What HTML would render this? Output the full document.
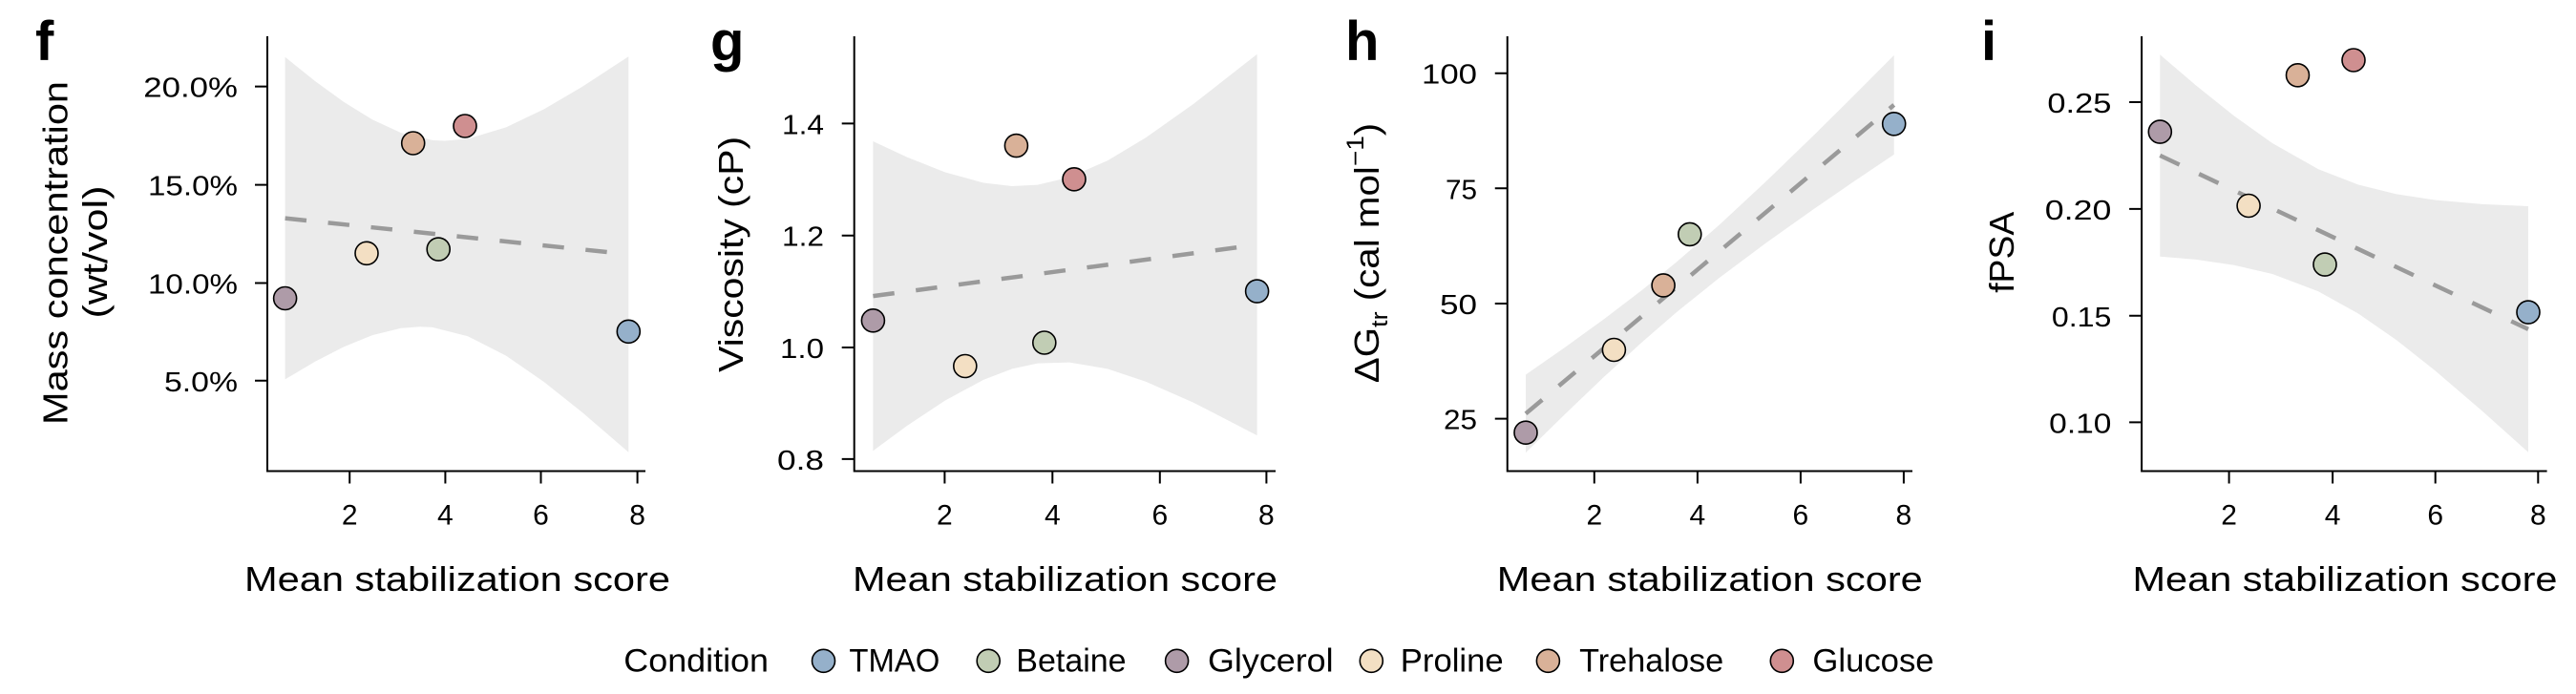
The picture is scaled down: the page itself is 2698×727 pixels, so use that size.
<!DOCTYPE html>
<html>
<head>
<meta charset="utf-8">
<style>
html,body{margin:0;padding:0;background:#fff;}
svg{display:block;}
text{font-family:"Liberation Sans",Arial,sans-serif;fill:#000;}
.ax{stroke:#000;stroke-width:2;fill:none;}
.band{fill:#ebebeb;stroke:none;}
.reg{stroke:#9a9a9a;stroke-width:4.5;stroke-dasharray:22.5 22.7;fill:none;}
.pt{stroke:#000;stroke-width:1.6;}
.tl{font-size:29px;}
.xl{font-size:30px;text-anchor:middle;}
.lab{font-size:36px;}
.pl{font-size:58px;font-weight:bold;}
.lg{font-size:34px;}
.tmao{fill:#95b0ca;}
.bet{fill:#c1cdb4;}
.gly{fill:#ae9ba8;}
.pro{fill:#f3dfc3;}
.tre{fill:#d9b198;}
.glu{fill:#cf8f90;}
</style>
</head>
<body>
<svg width="2698" height="727" viewBox="0 0 2698 727" xmlns="http://www.w3.org/2000/svg">

<!-- ================= Panel f ================= -->
<text class="pl" x="37" y="63">f</text>
<path class="band" d="M298.6,59.8 L330,85.0 L360,106.8 L390,125.3 L420,139.1 L453,146.9 L466,147.5 L490,145.4 L530,133.4 L570,114.2 L610,90.7 L658.3,59.2 L658.3,473.8 L610,432.1 L570,400.2 L530,372.6 L490,352.2 L453,342.9 L440,342.2 L420,343.7 L390,351.1 L360,363.4 L330,378.8 L298.6,397.4 Z"/>
<line class="reg" x1="298.6" y1="228.6" x2="640" y2="264.5"/>
<circle class="pt gly" cx="298.6" cy="312.5" r="12"/>
<circle class="pt pro" cx="384" cy="265.3" r="12"/>
<circle class="pt tre" cx="432.7" cy="150" r="12"/>
<circle class="pt bet" cx="459.2" cy="261.1" r="12"/>
<circle class="pt glu" cx="487" cy="132" r="12"/>
<circle class="pt tmao" cx="658.3" cy="347.3" r="12"/>
<path class="ax" d="M280,38 L280,493.5 L676,493.5"/>
<path class="ax" d="M267,90.6 H280 M267,193.6 H280 M267,296.5 H280 M267,398.8 H280"/>
<path class="ax" d="M366.2,493.5 V506.5 M466.4,493.5 V506.5 M566.5,493.5 V506.5 M667.6,493.5 V506.5"/>
<text class="tl" x="249" y="101.6" text-anchor="end" textLength="98.7" lengthAdjust="spacingAndGlyphs">20.0%</text>
<text class="tl" x="249" y="204.6" text-anchor="end" textLength="94" lengthAdjust="spacingAndGlyphs">15.0%</text>
<text class="tl" x="249" y="307.5" text-anchor="end" textLength="94" lengthAdjust="spacingAndGlyphs">10.0%</text>
<text class="tl" x="249" y="409.8" text-anchor="end" textLength="77" lengthAdjust="spacingAndGlyphs">5.0%</text>
<text class="xl" x="366.2" y="549.5">2</text>
<text class="xl" x="466.4" y="549.5">4</text>
<text class="xl" x="566.5" y="549.5">6</text>
<text class="xl" x="667.6" y="549.5">8</text>
<text class="lab" x="479" y="619" text-anchor="middle" textLength="446" lengthAdjust="spacingAndGlyphs">Mean stabilization score</text>
<text class="lab" transform="translate(70.5,265) rotate(-90)" text-anchor="middle" textLength="360" lengthAdjust="spacingAndGlyphs">Mass concentration</text>
<text class="lab" transform="translate(112,264) rotate(-90)" text-anchor="middle" textLength="139" lengthAdjust="spacingAndGlyphs">(wt/vol)</text>

<!-- ================= Panel g ================= -->
<text class="pl" x="744" y="63">g</text>
<path class="band" d="M914.4,148.0 L950,164.6 L990,180.5 L1030,191.5 L1060,195.0 L1086.8,193.6 L1120,185.8 L1160,168.2 L1200,144.3 L1250,108.9 L1316.6,56.7 L1316.6,456.1 L1250,421.7 L1200,399.7 L1160,386.4 L1120,379.6 L1086.8,380.6 L1060,386.4 L1030,397.9 L990,419.5 L950,446.0 L914.4,472.2 Z"/>
<line class="reg" x1="914.4" y1="310.1" x2="1298" y2="258.9"/>
<circle class="pt gly" cx="914.4" cy="335.8" r="12"/>
<circle class="pt pro" cx="1010.8" cy="383.5" r="12"/>
<circle class="pt tre" cx="1064.4" cy="152.6" r="12"/>
<circle class="pt bet" cx="1093.8" cy="359" r="12"/>
<circle class="pt glu" cx="1125" cy="187.8" r="12"/>
<circle class="pt tmao" cx="1316.6" cy="305.1" r="12"/>
<path class="ax" d="M894.7,38 L894.7,493.5 L1336,493.5"/>
<path class="ax" d="M881.7,129.4 H894.7 M881.7,246.7 H894.7 M881.7,364 H894.7 M881.7,480.9 H894.7"/>
<path class="ax" d="M989.4,493.5 V506.5 M1102.3,493.5 V506.5 M1214.8,493.5 V506.5 M1326.4,493.5 V506.5"/>
<text class="tl" x="863" y="140.4" text-anchor="end" textLength="44" lengthAdjust="spacingAndGlyphs">1.4</text>
<text class="tl" x="863" y="257.7" text-anchor="end" textLength="44" lengthAdjust="spacingAndGlyphs">1.2</text>
<text class="tl" x="863" y="375" text-anchor="end" textLength="46" lengthAdjust="spacingAndGlyphs">1.0</text>
<text class="tl" x="863" y="491.9" text-anchor="end" textLength="49" lengthAdjust="spacingAndGlyphs">0.8</text>
<text class="xl" x="989.4" y="549.5">2</text>
<text class="xl" x="1102.3" y="549.5">4</text>
<text class="xl" x="1214.8" y="549.5">6</text>
<text class="xl" x="1326.4" y="549.5">8</text>
<text class="lab" x="1115.5" y="619" text-anchor="middle" textLength="445" lengthAdjust="spacingAndGlyphs">Mean stabilization score</text>
<text class="lab" transform="translate(778,266.4) rotate(-90)" text-anchor="middle" textLength="247" lengthAdjust="spacingAndGlyphs">Viscosity (cP)</text>

<!-- ================= Panel h ================= -->
<text class="pl" x="1409" y="63">h</text>
<path class="band" d="M1598,392.5 L1640,363.2 L1680,334.2 L1720,303.7 L1756.2,274.3 L1800,236.2 L1850,189.8 L1900,141.4 L1940,101.7 L1983.7,57.9 L1983.7,161.9 L1940,191.3 L1900,218.8 L1850,254.2 L1800,291.6 L1756.2,326.9 L1720,358.3 L1680,394.8 L1640,433.0 L1598,474.1 Z"/>
<line class="reg" x1="1598" y1="433.3" x2="1983.7" y2="109.9"/>
<circle class="pt gly" cx="1598" cy="453.2" r="12"/>
<circle class="pt pro" cx="1690.4" cy="366.5" r="12"/>
<circle class="pt tre" cx="1742.1" cy="298.9" r="12"/>
<circle class="pt bet" cx="1769.8" cy="245.4" r="12"/>
<circle class="pt tmao" cx="1983.7" cy="129.8" r="12"/>
<path class="ax" d="M1578.75,38 L1578.75,493.5 L2003,493.5"/>
<path class="ax" d="M1565.75,76.7 H1578.75 M1565.75,197.3 H1578.75 M1565.75,318 H1578.75 M1565.75,438.6 H1578.75"/>
<path class="ax" d="M1669.8,493.5 V506.5 M1777.9,493.5 V506.5 M1885.9,493.5 V506.5 M1993.9,493.5 V506.5"/>
<text class="tl" x="1547" y="87.7" text-anchor="end" textLength="58" lengthAdjust="spacingAndGlyphs">100</text>
<text class="tl" x="1547" y="208.3" text-anchor="end" textLength="33" lengthAdjust="spacingAndGlyphs">75</text>
<text class="tl" x="1547" y="329" text-anchor="end" textLength="39" lengthAdjust="spacingAndGlyphs">50</text>
<text class="tl" x="1547" y="449.6" text-anchor="end" textLength="35" lengthAdjust="spacingAndGlyphs">25</text>
<text class="xl" x="1669.8" y="549.5">2</text>
<text class="xl" x="1777.9" y="549.5">4</text>
<text class="xl" x="1885.9" y="549.5">6</text>
<text class="xl" x="1993.9" y="549.5">8</text>
<text class="lab" x="1790.8" y="619" text-anchor="middle" textLength="446" lengthAdjust="spacingAndGlyphs">Mean stabilization score</text>
<text class="lab" transform="translate(1444,265) rotate(-90) scale(1.12 1)" text-anchor="middle">ΔG<tspan font-size="24" dy="9">tr</tspan><tspan dy="-9"> (cal mol</tspan><tspan font-size="25" dy="-16">−1</tspan><tspan dy="16">)</tspan></text>

<!-- ================= Panel i ================= -->
<text class="pl" x="2075" y="63">i</text>
<path class="band" d="M2262.3,57.2 L2300,89.5 L2340,121.5 L2380,150.0 L2427.9,177.1 L2470,193.5 L2510,203.4 L2550,209.5 L2600,213.9 L2648,216.0 L2648,473.8 L2600,430.7 L2550,387.9 L2510,356.2 L2470,328.5 L2427.9,305.1 L2380,287.0 L2340,277.7 L2300,271.9 L2262.3,268.7 Z"/>
<line class="reg" x1="2262.3" y1="162.9" x2="2648" y2="344.9"/>
<circle class="pt gly" cx="2262.3" cy="138.1" r="12"/>
<circle class="pt pro" cx="2355.1" cy="215.5" r="12"/>
<circle class="pt tre" cx="2406.5" cy="78.8" r="12"/>
<circle class="pt bet" cx="2435" cy="277.1" r="12"/>
<circle class="pt glu" cx="2465" cy="63" r="12"/>
<circle class="pt tmao" cx="2648" cy="327.1" r="12"/>
<path class="ax" d="M2243.1,38 L2243.1,493.5 L2667.6,493.5"/>
<path class="ax" d="M2230.1,107 H2243.1 M2230.1,218.9 H2243.1 M2230.1,330.8 H2243.1 M2230.1,442.4 H2243.1"/>
<path class="ax" d="M2334.6,493.5 V506.5 M2443.1,493.5 V506.5 M2550.7,493.5 V506.5 M2658.3,493.5 V506.5"/>
<text class="tl" x="2211.4" y="118" text-anchor="end" textLength="67" lengthAdjust="spacingAndGlyphs">0.25</text>
<text class="tl" x="2211.4" y="229.9" text-anchor="end" textLength="69.6" lengthAdjust="spacingAndGlyphs">0.20</text>
<text class="tl" x="2211.4" y="341.8" text-anchor="end" textLength="62.5" lengthAdjust="spacingAndGlyphs">0.15</text>
<text class="tl" x="2211.4" y="453.4" text-anchor="end" textLength="65.2" lengthAdjust="spacingAndGlyphs">0.10</text>
<text class="xl" x="2334.6" y="549.5">2</text>
<text class="xl" x="2443.1" y="549.5">4</text>
<text class="xl" x="2550.7" y="549.5">6</text>
<text class="xl" x="2658.3" y="549.5">8</text>
<text class="lab" x="2456" y="619" text-anchor="middle" textLength="445" lengthAdjust="spacingAndGlyphs">Mean stabilization score</text>
<text class="lab" transform="translate(2109,264.3) rotate(-90)" text-anchor="middle" textLength="85" lengthAdjust="spacingAndGlyphs">fPSA</text>

<!-- ================= Legend ================= -->
<text class="lg" x="653.3" y="703.3" textLength="151.7" lengthAdjust="spacingAndGlyphs">Condition</text>
<circle class="pt tmao" cx="862.5" cy="692.3" r="12"/>
<text class="lg" x="889.4" y="703.3" textLength="95" lengthAdjust="spacingAndGlyphs">TMAO</text>
<circle class="pt bet" cx="1035.2" cy="692.3" r="12"/>
<text class="lg" x="1064.3" y="703.3" textLength="115.3" lengthAdjust="spacingAndGlyphs">Betaine</text>
<circle class="pt gly" cx="1232.6" cy="692.3" r="12"/>
<text class="lg" x="1265" y="703.3" textLength="131.6" lengthAdjust="spacingAndGlyphs">Glycerol</text>
<circle class="pt pro" cx="1436.3" cy="692.3" r="12"/>
<text class="lg" x="1466.8" y="703.3" textLength="107.9" lengthAdjust="spacingAndGlyphs">Proline</text>
<circle class="pt tre" cx="1621.4" cy="692.3" r="12"/>
<text class="lg" x="1654.1" y="703.3" textLength="151.1" lengthAdjust="spacingAndGlyphs">Trehalose</text>
<circle class="pt glu" cx="1866.3" cy="692.3" r="12"/>
<text class="lg" x="1898.4" y="703.3" textLength="127.2" lengthAdjust="spacingAndGlyphs">Glucose</text>
</svg>
</body>
</html>
